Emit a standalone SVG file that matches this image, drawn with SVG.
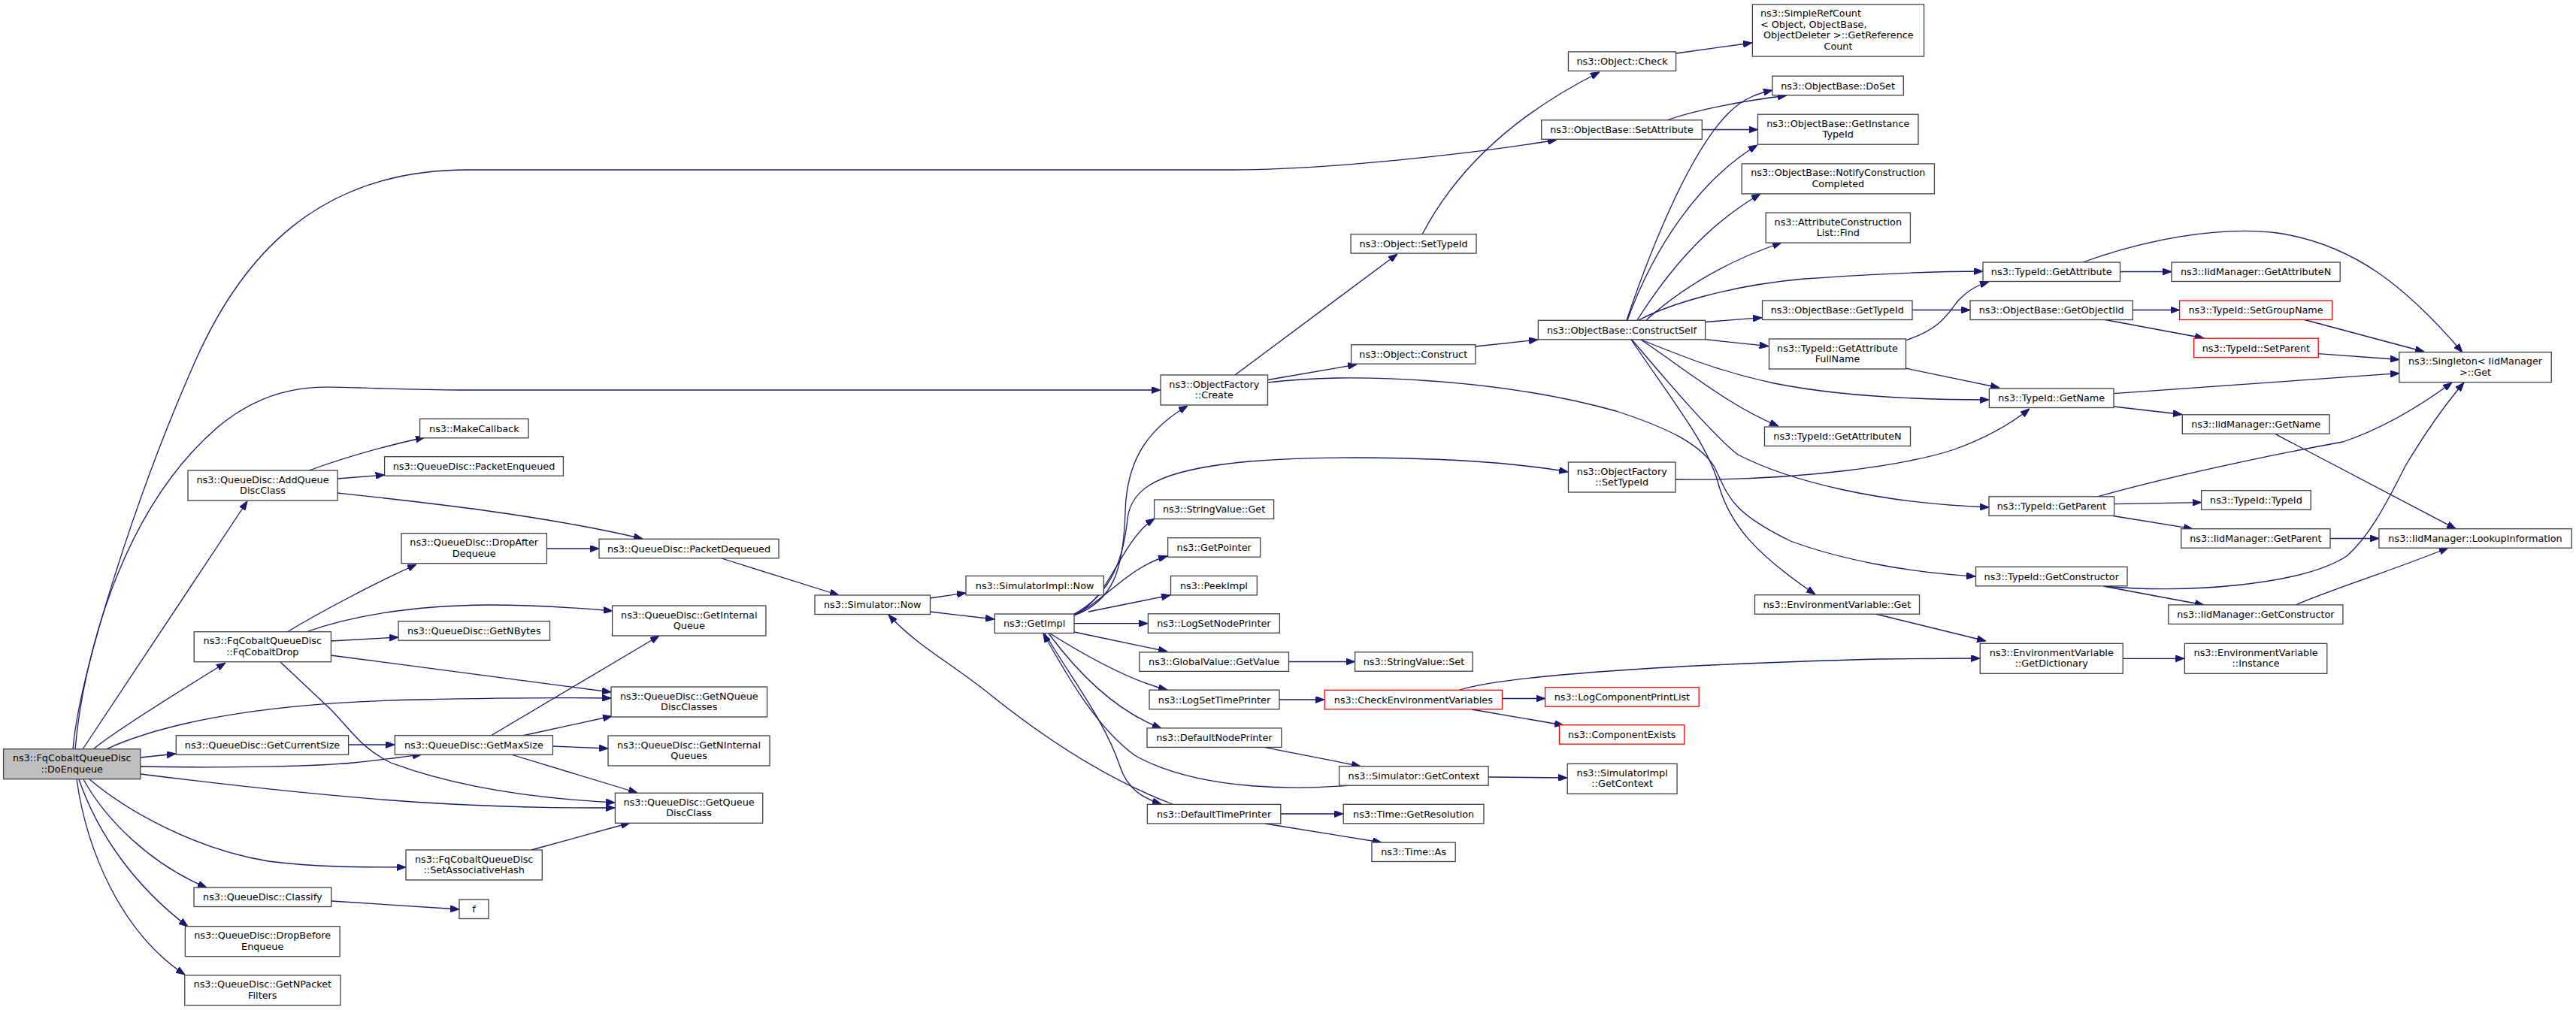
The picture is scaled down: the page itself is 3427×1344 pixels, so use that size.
<svg xmlns="http://www.w3.org/2000/svg" width="3427" height="1344" viewBox="0 0 3427 1344">
<style>
.n rect{fill:#fff;stroke:#404040;stroke-width:1.3}
.n.root rect{fill:#bfbfbf}
.n.red rect{stroke:#ff0000}
.n text{font-family:"DejaVu Sans","Liberation Sans",sans-serif;font-size:12.8px;fill:#000;text-anchor:middle}
.n text.l{text-anchor:start}
#edges path{fill:none;stroke:#191970;stroke-width:1.3;marker-end:url(#ah)}
</style>
<defs>
<marker id="ah" markerUnits="userSpaceOnUse" markerWidth="12" markerHeight="9" refX="12" refY="4.5" orient="auto" viewBox="0 0 12 9">
<path d="M0,0 L12,4.5 L0,9 Z" fill="#191970" stroke="#191970" stroke-width="1"/>
</marker>
</defs>
<rect width="3427" height="1344" fill="#fff"/>
<g id="edges">
<path d="M97,997 C105,900 180,660 260,480 C320,345 420,226 622,226 L1640,226 C1760,226 1960,205 2071,186"/>
<path d="M100,997 C110,880 160,680 290,568 C360,510 420,514 478,516 C540,518 570,519 612,519 L1544,519"/>
<path d="M110,997 L329,667"/>
<path d="M124,997 C150,975 230,925 300,882"/>
<path d="M141,997 C200,970 320,935 560,931 C650,929 730,928 813,929"/>
<path d="M187,1008 L234,1003"/>
<path d="M187,1020 C300,1022 420,1020 470,1015 C500,1012 530,1008 561,1004"/>
<path d="M187,1030 C330,1048 480,1064 600,1070 C700,1075 760,1075 818,1075"/>
<path d="M373,881 L440,944 C470,975 480,995 520,1015 C600,1045 700,1062 818,1068"/>
<path d="M119,1037 C170,1080 260,1130 357,1146 C420,1154 480,1154 540,1154"/>
<path d="M111,1037 C140,1090 200,1150 275,1181"/>
<path d="M105,1037 C130,1110 180,1180 250,1233"/>
<path d="M102,1037 C115,1130 160,1240 246,1297"/>
<path d="M441,1199 L611,1210"/>
<path d="M411,626 C450,612 500,596 565,582"/>
<path d="M449,637 L511.6,632"/>
<path d="M449,656 C560,668 720,685 855,717"/>
<path d="M727,730 L797,730"/>
<path d="M382,841 C420,818 490,780 554,751"/>
<path d="M407,841 C460,822 540,806 650,805 C720,805 770,809 815,813"/>
<path d="M440,853 L530,848"/>
<path d="M440,872 L813,921"/>
<path d="M464,991 L525,991"/>
<path d="M653,979 L877,846"/>
<path d="M695,979 L814,953"/>
<path d="M735,993 L809,996"/>
<path d="M680,1004 L848,1055"/>
<path d="M707,1131 L838,1095"/>
<path d="M960,743 L1116,792"/>
<path d="M1237,796 L1285,789"/>
<path d="M1237,814 L1323,824"/>
<path d="M1560,1070 C1480,1040 1400,990 1322,928 C1270,885 1220,860 1182,818"/>
<path d="M1429,819 C1480,800 1495,760 1497,680 C1499,620 1520,575 1580,540"/>
<path d="M1429,817 C1480,790 1495,740 1500,690 C1505,650 1540,625 1662,614 C1760,606 1960,606 2086,628"/>
<path d="M1429,818 C1475,800 1490,720 1536,690"/>
<path d="M1429,818 C1470,800 1500,755 1553,740"/>
<path d="M1448,814 L1557,792"/>
<path d="M1429,829.6 L1527,829.6"/>
<path d="M1429,841 L1553,867"/>
<path d="M1397,843 C1440,870 1500,905 1553,918"/>
<path d="M1395,843 C1430,890 1480,945 1545,969"/>
<path d="M1390,843 C1430,910 1470,960 1490,1020 C1500,1050 1520,1062 1545,1070"/>
<path d="M1795,1045 C1740,1050 1600,1055 1511,1006 C1460,970 1420,900 1388,843"/>
<path d="M1683,994.6 L1810,1019.6"/>
<path d="M1980,1034 L2085,1035"/>
<path d="M1704,1083 L1787,1083"/>
<path d="M1683,1096 L1838,1121"/>
<path d="M1714.5,880.5 L1802.6,880.5"/>
<path d="M1702,931 L1762,931"/>
<path d="M1998.5,929.5 L2055.6,929.5"/>
<path d="M1958,944 L2080,965"/>
<path d="M1942,918 C2000,900 2200,885 2500,877 L2634,876"/>
<path d="M1643,499 L1859,338"/>
<path d="M1686.5,505.5 L1805,485"/>
<path d="M1686.5,509 C1800,495 2000,505 2150,547 C2220,570 2260,590 2280,620 C2300,660 2300,680 2382,720 C2450,745 2540,762 2628,767"/>
<path d="M1892,312 C1940,220 2020,150 2128,96"/>
<path d="M2229.6,71 L2331,57"/>
<path d="M1963,461 L2046,452"/>
<path d="M2164,426 C2200,320 2250,200 2300,150 C2320,130 2340,124 2358,120"/>
<path d="M2217,160 C2270,142 2330,133 2377,127"/>
<path d="M2264,172.5 L2338.5,172.5"/>
<path d="M2165,426 C2200,330 2260,240 2338,193"/>
<path d="M2178,426 C2220,360 2270,300 2342,258"/>
<path d="M2190,426 C2230,390 2290,350 2370,323"/>
<path d="M2180,426 C2220,405 2300,380 2400,371 C2500,364 2580,361 2638,361"/>
<path d="M2268.6,428.5 L2344,422.7"/>
<path d="M2268.6,451.7 L2352.7,460.7"/>
<path d="M2183,452 C2240,475 2290,495 2360,510 C2450,528 2560,532 2646,532"/>
<path d="M2183,452 C2240,490 2300,540 2366,567"/>
<path d="M2171,452 C2220,510 2280,580 2312,605 C2380,640 2500,670 2646,675"/>
<path d="M2170,452 C2230,540 2270,590 2285,640 C2300,700 2340,740 2415,791"/>
<path d="M2229,638 C2400,640 2540,618 2600,598 C2650,580 2680,560 2700,544"/>
<path d="M2543.4,412.5 L2621,412.5"/>
<path d="M2535,453 C2580,438 2590,420 2605,400 C2620,385 2630,380 2646,375"/>
<path d="M2535,490 L2660,516"/>
<path d="M2820.5,361.5 L2889,361.5"/>
<path d="M2771,349 C2850,320 2950,300 3030,310 C3130,325 3200,380 3276,469"/>
<path d="M2837,412.5 L2899.6,412.5"/>
<path d="M2798,425 L2932,450"/>
<path d="M3064,425 L3225,468"/>
<path d="M3084,470.6 L3192,478.5"/>
<path d="M2812,523.7 L3192,496.7"/>
<path d="M2812,541 L2903,551.5"/>
<path d="M3027,577.6 L3267,703.7"/>
<path d="M2790,661 C2900,630 3050,600 3117,588 C3170,570 3220,540 3262,509"/>
<path d="M2812.6,670.6 L2928.6,668.6"/>
<path d="M2811,686.5 L2917,703.7"/>
<path d="M3100,716.5 L3165,716.5"/>
<path d="M2800,780 C2900,790 3060,780 3122,740 C3150,715 3170,680 3200,620 C3230,570 3260,530 3278,509"/>
<path d="M2798,780 L2932,805"/>
<path d="M3054,805 C3100,785 3180,760 3257,729"/>
<path d="M2824,876.3 L2906,876.3"/>
<path d="M2495,817 L2642,853"/>
</g>
<g id="n1" class="n root"><rect x="4.6" y="996.7" width="182.2" height="40"/><text x="95.7" y="1013.2">ns3::FqCobaltQueueDisc</text><text x="95.7" y="1027.7">::DoEnqueue</text></g>
<g id="n2" class="n"><rect x="250" y="626" width="199" height="40"/><text x="349.5" y="642.5">ns3::QueueDisc::AddQueue</text><text x="349.5" y="657">DiscClass</text></g>
<g id="n3" class="n"><rect x="258.2" y="840.7" width="182.2" height="40"/><text x="349.3" y="857.2">ns3::FqCobaltQueueDisc</text><text x="349.3" y="871.7">::FqCobaltDrop</text></g>
<g id="n4" class="n"><rect x="234.3" y="978.7" width="229.3" height="25.5"/><text x="349" y="996">ns3::QueueDisc::GetCurrentSize</text></g>
<g id="n5" class="n"><rect x="258" y="1181" width="182.7" height="25.5"/><text x="349.3" y="1198.3">ns3::QueueDisc::Classify</text></g>
<g id="n6" class="n"><rect x="246.4" y="1232.7" width="205.7" height="40"/><text x="349.2" y="1249.2">ns3::QueueDisc::DropBefore</text><text x="349.2" y="1263.7">Enqueue</text></g>
<g id="n7" class="n"><rect x="245.7" y="1297.7" width="207.2" height="40"/><text x="349.3" y="1314.2">ns3::QueueDisc::GetNPacket</text><text x="349.3" y="1328.7">Filters</text></g>
<g id="n8" class="n"><rect x="558.6" y="557.3" width="144.4" height="25.5"/><text x="630.8" y="574.6">ns3::MakeCallback</text></g>
<g id="n9" class="n"><rect x="511.6" y="607.7" width="237.8" height="25.5"/><text x="630.5" y="625">ns3::QueueDisc::PacketEnqueued</text></g>
<g id="n10" class="n"><rect x="534" y="709.7" width="193.4" height="40"/><text x="630.7" y="726.2">ns3::QueueDisc::DropAfter</text><text x="630.7" y="740.7">Dequeue</text></g>
<g id="n11" class="n"><rect x="530" y="826.7" width="201.5" height="25.5"/><text x="630.75" y="844">ns3::QueueDisc::GetNBytes</text></g>
<g id="n12" class="n"><rect x="525.3" y="978.7" width="210.1" height="25.5"/><text x="630.35" y="996">ns3::QueueDisc::GetMaxSize</text></g>
<g id="n13" class="n"><rect x="540" y="1131" width="181.3" height="40"/><text x="630.65" y="1147.5">ns3::FqCobaltQueueDisc</text><text x="630.65" y="1162">::SetAssociativeHash</text></g>
<g id="n14" class="n"><rect x="611" y="1197" width="39" height="25.5"/><text x="630.5" y="1214.3">f</text></g>
<g id="n15" class="n"><rect x="797" y="717.3" width="239" height="25.5"/><text x="916.5" y="734.6">ns3::QueueDisc::PacketDequeued</text></g>
<g id="n16" class="n"><rect x="814.6" y="806" width="204.3" height="40"/><text x="916.75" y="822.5">ns3::QueueDisc::GetInternal</text><text x="916.75" y="837">Queue</text></g>
<g id="n17" class="n"><rect x="813" y="914" width="207.5" height="40"/><text x="916.75" y="930.5">ns3::QueueDisc::GetNQueue</text><text x="916.75" y="945">DiscClasses</text></g>
<g id="n18" class="n"><rect x="809" y="979" width="215" height="40"/><text x="916.5" y="995.5">ns3::QueueDisc::GetNInternal</text><text x="916.5" y="1010">Queues</text></g>
<g id="n19" class="n"><rect x="818.4" y="1055.3" width="196.3" height="40"/><text x="916.55" y="1071.8">ns3::QueueDisc::GetQueue</text><text x="916.55" y="1086.3">DiscClass</text></g>
<g id="n20" class="n"><rect x="1084" y="792" width="153.5" height="25.5"/><text x="1160.75" y="809.3">ns3::Simulator::Now</text></g>
<g id="n21" class="n"><rect x="1285" y="766.4" width="183.3" height="25.5"/><text x="1376.65" y="783.7">ns3::SimulatorImpl::Now</text></g>
<g id="n22" class="n"><rect x="1323.3" y="817" width="105.7" height="25.5"/><text x="1376.15" y="834.3">ns3::GetImpl</text></g>
<g id="n23" class="n"><rect x="1544" y="499" width="142.5" height="40"/><text x="1615.25" y="515.5">ns3::ObjectFactory</text><text x="1615.25" y="530">::Create</text></g>
<g id="n24" class="n"><rect x="1535.6" y="665" width="159" height="25.5"/><text x="1615.1" y="682.3">ns3::StringValue::Get</text></g>
<g id="n25" class="n"><rect x="1553.6" y="715.7" width="123.1" height="25.5"/><text x="1615.15" y="733">ns3::GetPointer</text></g>
<g id="n26" class="n"><rect x="1557.5" y="766.4" width="114.8" height="25.5"/><text x="1614.9" y="783.7">ns3::PeekImpl</text></g>
<g id="n27" class="n"><rect x="1527.4" y="816.8" width="175" height="25.5"/><text x="1614.9" y="834.1">ns3::LogSetNodePrinter</text></g>
<g id="n28" class="n"><rect x="1515.8" y="867.9" width="198.7" height="25.5"/><text x="1615.15" y="885.2">ns3::GlobalValue::GetValue</text></g>
<g id="n29" class="n"><rect x="1529" y="918.2" width="173" height="25.5"/><text x="1615.5" y="935.5">ns3::LogSetTimePrinter</text></g>
<g id="n30" class="n"><rect x="1526" y="968.9" width="178.8" height="25.5"/><text x="1615.4" y="986.2">ns3::DefaultNodePrinter</text></g>
<g id="n31" class="n"><rect x="1526.4" y="1070.4" width="177.4" height="25.5"/><text x="1615.1" y="1087.7">ns3::DefaultTimePrinter</text></g>
<g id="n32" class="n"><rect x="1797.1" y="311.6" width="166.9" height="25.5"/><text x="1880.55" y="328.9">ns3::Object::SetTypeId</text></g>
<g id="n33" class="n"><rect x="1797.6" y="458.7" width="165.3" height="25.5"/><text x="1880.25" y="476">ns3::Object::Construct</text></g>
<g id="n34" class="n"><rect x="1802.6" y="867.7" width="156.6" height="25.5"/><text x="1880.9" y="885">ns3::StringValue::Set</text></g>
<g id="n35" class="n red"><rect x="1762.2" y="918.3" width="236.3" height="25.5"/><text x="1880.35" y="935.6">ns3::CheckEnvironmentVariables</text></g>
<g id="n36" class="n"><rect x="1781.6" y="1019.7" width="198.5" height="25.5"/><text x="1880.85" y="1037">ns3::Simulator::GetContext</text></g>
<g id="n37" class="n"><rect x="1787.2" y="1070.3" width="186.8" height="25.5"/><text x="1880.6" y="1087.6">ns3::Time::GetResolution</text></g>
<g id="n38" class="n"><rect x="1825" y="1121" width="111.2" height="25.5"/><text x="1880.6" y="1138.3">ns3::Time::As</text></g>
<g id="n39" class="n"><rect x="2086.5" y="68.9" width="143.1" height="25.5"/><text x="2158.05" y="86.2">ns3::Object::Check</text></g>
<g id="n40" class="n"><rect x="2050.7" y="159.8" width="213.6" height="25.5"/><text x="2157.5" y="177.1">ns3::ObjectBase::SetAttribute</text></g>
<g id="n41" class="n"><rect x="2046.4" y="426.3" width="222.2" height="25.5"/><text x="2157.5" y="443.6">ns3::ObjectBase::ConstructSelf</text></g>
<g id="n42" class="n"><rect x="2086.5" y="615" width="142.5" height="40"/><text x="2157.75" y="631.5">ns3::ObjectFactory</text><text x="2157.75" y="646">::SetTypeId</text></g>
<g id="n43" class="n red"><rect x="2055.6" y="914.7" width="204.6" height="25.5"/><text x="2157.9" y="932">ns3::LogComponentPrintList</text></g>
<g id="n44" class="n red"><rect x="2074.5" y="964.7" width="166.3" height="25.5"/><text x="2157.65" y="982">ns3::ComponentExists</text></g>
<g id="n45" class="n"><rect x="2085.2" y="1016.3" width="145.9" height="40"/><text x="2158.15" y="1032.8">ns3::SimulatorImpl</text><text x="2158.15" y="1047.3">::GetContext</text></g>
<g id="n46" class="n"><rect x="2331.4" y="5.9" width="228.2" height="69.2"/><text class="l" x="2342" y="22.1">ns3::SimpleRefCount</text><text class="l" x="2342" y="36.7">&lt; Object, ObjectBase,</text><text class="l" x="2346" y="51.3">ObjectDeleter &gt;::GetReference</text><text x="2445.5" y="65.9">Count</text></g>
<g id="n47" class="n"><rect x="2357.9" y="101.2" width="174.4" height="25.5"/><text x="2445.1" y="118.5">ns3::ObjectBase::DoSet</text></g>
<g id="n48" class="n"><rect x="2338.5" y="152.2" width="213.5" height="40"/><text x="2445.25" y="168.7">ns3::ObjectBase::GetInstance</text><text x="2445.25" y="183.2">TypeId</text></g>
<g id="n49" class="n"><rect x="2317.2" y="217.9" width="256.2" height="40"/><text x="2445.3" y="234.4">ns3::ObjectBase::NotifyConstruction</text><text x="2445.3" y="248.9">Completed</text></g>
<g id="n50" class="n"><rect x="2349.2" y="283.1" width="192.2" height="40"/><text x="2445.3" y="299.6">ns3::AttributeConstruction</text><text x="2445.3" y="314.1">List::Find</text></g>
<g id="n51" class="n"><rect x="2344.5" y="400" width="199.5" height="25.5"/><text x="2444.25" y="417.3">ns3::ObjectBase::GetTypeId</text></g>
<g id="n52" class="n"><rect x="2353.5" y="451" width="182" height="40"/><text x="2444.5" y="467.5">ns3::TypeId::GetAttribute</text><text x="2444.5" y="482">FullName</text></g>
<g id="n53" class="n"><rect x="2347.5" y="568" width="194" height="25.5"/><text x="2444.5" y="585.3">ns3::TypeId::GetAttributeN</text></g>
<g id="n54" class="n"><rect x="2334.5" y="791.7" width="219" height="25.5"/><text x="2444" y="809">ns3::EnvironmentVariable::Get</text></g>
<g id="n55" class="n"><rect x="2638" y="349" width="182.5" height="25.5"/><text x="2729.25" y="366.3">ns3::TypeId::GetAttribute</text></g>
<g id="n56" class="n"><rect x="2621" y="400" width="216.3" height="25.5"/><text x="2729.15" y="417.3">ns3::ObjectBase::GetObjectIid</text></g>
<g id="n57" class="n"><rect x="2646.4" y="517" width="165.6" height="25.5"/><text x="2729.2" y="534.3">ns3::TypeId::GetName</text></g>
<g id="n58" class="n"><rect x="2646" y="660.8" width="166.6" height="25.5"/><text x="2729.3" y="678.1">ns3::TypeId::GetParent</text></g>
<g id="n59" class="n"><rect x="2628.5" y="754.3" width="201.5" height="25.5"/><text x="2729.25" y="771.6">ns3::TypeId::GetConstructor</text></g>
<g id="n60" class="n"><rect x="2634.3" y="856.3" width="189.9" height="40"/><text x="2729.25" y="872.8">ns3::EnvironmentVariable</text><text x="2729.25" y="887.3">::GetDictionary</text></g>
<g id="n61" class="n"><rect x="2889" y="349" width="224.2" height="25.5"/><text x="3001.1" y="366.3">ns3::IidManager::GetAttributeN</text></g>
<g id="n62" class="n red"><rect x="2899.6" y="400" width="203" height="25.5"/><text x="3001.1" y="417.3">ns3::TypeId::SetGroupName</text></g>
<g id="n63" class="n red"><rect x="2918.6" y="450.2" width="165.6" height="25.5"/><text x="3001.4" y="467.5">ns3::TypeId::SetParent</text></g>
<g id="n64" class="n"><rect x="2903.3" y="551.8" width="195.7" height="25.5"/><text x="3001.15" y="569.1">ns3::IidManager::GetName</text></g>
<g id="n65" class="n"><rect x="2928.6" y="652.7" width="145.6" height="25.5"/><text x="3001.4" y="670">ns3::TypeId::TypeId</text></g>
<g id="n66" class="n"><rect x="2901.7" y="703.7" width="198.3" height="25.5"/><text x="3000.85" y="721">ns3::IidManager::GetParent</text></g>
<g id="n67" class="n"><rect x="2884.8" y="804.9" width="232.1" height="25.5"/><text x="3000.85" y="822.2">ns3::IidManager::GetConstructor</text></g>
<g id="n68" class="n"><rect x="2906.4" y="856.3" width="189.4" height="40"/><text x="3001.1" y="872.8">ns3::EnvironmentVariable</text><text x="3001.1" y="887.3">::Instance</text></g>
<g id="n69" class="n"><rect x="3191.8" y="468.6" width="202.5" height="40"/><text x="3293.05" y="485.1">ns3::Singleton&lt; IidManager</text><text x="3293.05" y="499.6">&gt;::Get</text></g>
<g id="n70" class="n"><rect x="3164.9" y="703.7" width="256.3" height="25.5"/><text x="3293.05" y="721">ns3::IidManager::LookupInformation</text></g>
</svg>
